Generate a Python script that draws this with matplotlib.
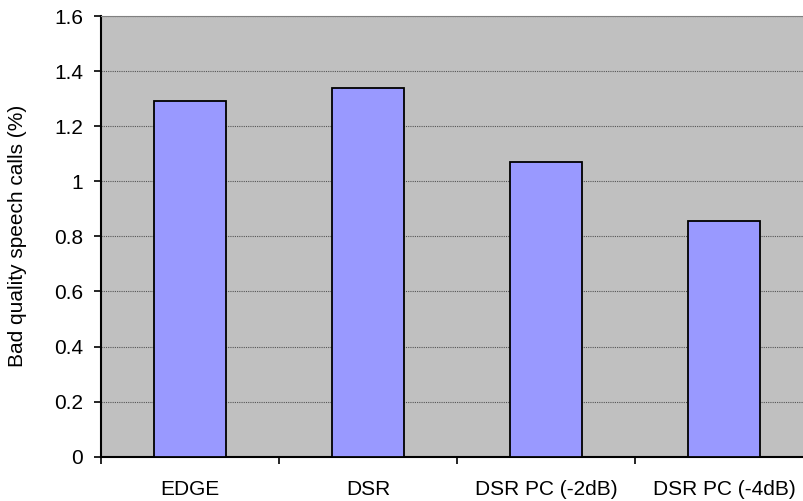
import matplotlib.pyplot as plt
import numpy as np

plt.rcParams['font.family'] = ['Liberation Sans', 'DejaVu Sans']

# data
categories = ['EDGE', 'DSR', 'DSR PC (-2dB)', 'DSR PC (-4dB)']
bad_calls = [1.291, 1.337, 1.071, 0.857]
y_ticks = [0, 0.2, 0.4, 0.6, 0.8, 1, 1.2, 1.4, 1.6]
y_tick_labels = ['0', '0.2', '0.4', '0.6', '0.8', '1', '1.2', '1.4', '1.6']

fig = plt.figure(figsize=(8.04, 5.01), dpi=100)
# plot area runs a little past the right edge of the picture, like the original
ax = fig.add_axes([101/804, (501-456.7)/501, (813-101)/804, (456.7-16)/501])
ax.set_facecolor('#C0C0C0')

x = np.arange(len(categories))
ax.bar(x, bad_calls, width=0.4, color='#9999FF', edgecolor='black', linewidth=1.3, zorder=3)

ax.set_xlim(-0.5, len(categories) - 0.5)
ax.set_ylim(0, 1.6)
ax.set_yticks(y_ticks)
ax.set_yticklabels(y_tick_labels, fontsize=15)
ax.yaxis.grid(True, color='#555555', linestyle=(0, (1, 1)), linewidth=0.8, zorder=1)

# category ticks sit between the bars, labels under the bars
ax.set_xticks(np.arange(-0.5, len(categories) + 0.5, 1))
ax.set_xticklabels([])
ax.set_xticks(x, minor=True)
ax.set_xticklabels(categories, minor=True, fontsize=15)
ax.tick_params(axis='x', which='minor', length=0, pad=17)
ax.tick_params(axis='x', which='major', direction='out', length=5, width=1.2)
ax.tick_params(axis='y', direction='out', length=5, width=1.2, pad=8)

ax.set_ylabel('Bad quality speech calls (%)', fontsize=15, labelpad=19)

for s in ['left', 'bottom']:
    ax.spines[s].set_linewidth(1.5)
    ax.spines[s].set_color('black')
ax.spines['top'].set_color('#808080')
ax.spines['top'].set_linewidth(0.8)
ax.spines['right'].set_visible(False)

fig.savefig('out.png', dpi=100)
